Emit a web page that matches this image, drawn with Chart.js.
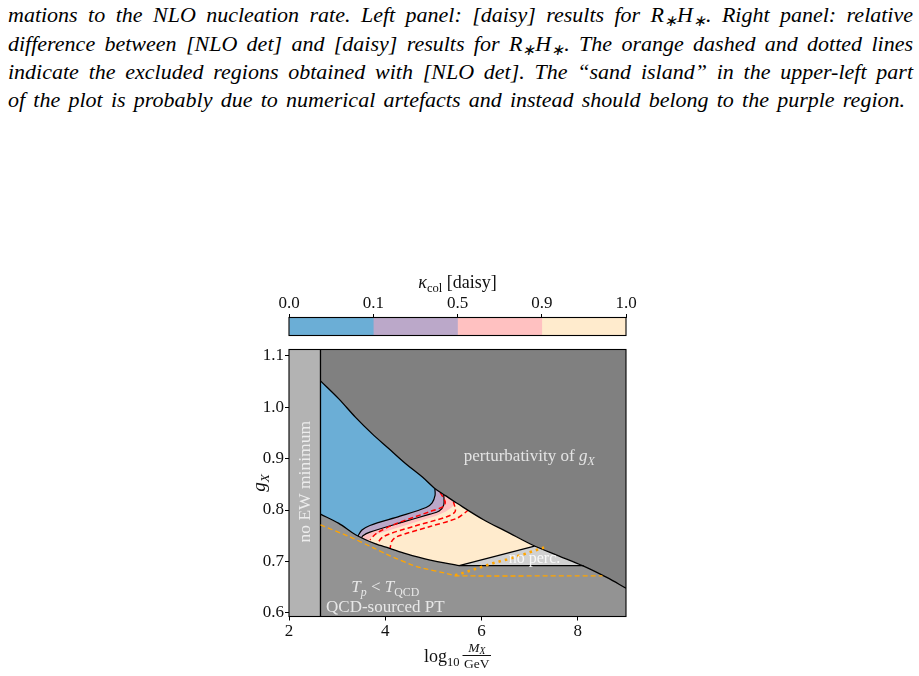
<!DOCTYPE html>
<html>
<head>
<meta charset="utf-8">
<script src="https://cdn.jsdelivr.net/npm/chart.js@4.4.1/dist/chart.umd.min.js"></script>
<style>
  html, body { margin: 0; padding: 0; background: #fff; }
  body { width: 919px; height: 676px; position: relative; overflow: hidden; }
  .cap { position: absolute; left: 8px; width: 905px; font-family: "Liberation Serif", serif; font-style: italic;
         font-size: 22px; line-height: 24px; white-space: nowrap; text-align: justify; text-align-last: justify; color: #000; }
  .cap sub { font-size: 0.7em; line-height: 0; vertical-align: -0.25em; }
  #main { position: absolute; left: 0; top: 0; }
  #cbar { position: absolute; left: 239px; top: 255px; }
</style>
</head>
<body>
<div class="cap" style="top:3px">mations to the NLO nucleation rate. Left panel: [daisy] results for R<sub>∗</sub>H<sub>∗</sub>. Right panel: relative</div>
<div class="cap" style="top:32px">difference between [NLO det] and [daisy] results for R<sub>∗</sub>H<sub>∗</sub>. The orange dashed and dotted lines</div>
<div class="cap" style="top:60px">indicate the excluded regions obtained with [NLO det]. The “sand island” in the upper-left part</div>
<div class="cap" style="top:88px;width:897px">of the plot is probably due to numerical artefacts and instead should belong to the purple region.</div>
<canvas id="main" width="919" height="676"></canvas>
<canvas id="cbar" width="440" height="90"></canvas>
<script>
// axes
const xRange = [2, 9];
const yRange = [0.593, 1.112];
const xTicks = [2, 4, 6, 8];
const yTicks = [0.6, 0.7, 0.8, 0.9, 1.0, 1.1];

// colour bar (kappa_col [daisy])
const cbBounds = [0.0, 0.1, 0.5, 0.9, 1.0];
const cbColors = ['#6baed6', '#bba8c9', '#ffc1c1', '#ffebcd'];

// no EW minimum below this mass
const ewEdge = 2.654;

// perturbativity of g_X
const pertX = [2.654, 3.035, 3.383, 3.729, 4.077, 4.425, 4.771, 5.015, 5.25, 5.49, 6.04, 6.5, 7.10, 7.6, 8.12, 8.6, 9.0];
const pertY = [1.051, 1.016, 0.980, 0.948, 0.919, 0.890, 0.864, 0.843, 0.828, 0.813, 0.781, 0.759, 0.730, 0.711, 0.691, 0.669, 0.648];

// T_p < T_QCD boundary (daisy): curved part, then flat edge under "no perc."
const tpX = [2.654, 3.035, 3.383, 3.80, 4.077, 4.425, 4.91, 5.535];
const tpY = [0.792, 0.774, 0.752, 0.734, 0.726, 0.715, 0.703, 0.692];
const tpFlatX = [5.535, 8.12];
const tpFlatY = [0.692, 0.692];

// no percolation edge
const noPercX = [5.535, 7.10];
const noPercY = [0.692, 0.730];

// kappa contours 0.1 / 0.5 / 0.9
const k01X = [5.03, 5.035, 4.973, 4.848, 4.306, 3.681, 3.515, 3.442, 3.42];
const k01Y = [0.841, 0.829, 0.814, 0.805, 0.788, 0.770, 0.761, 0.751, 0.745];
const k05X = [5.215, 5.215, 5.12, 4.93, 4.306, 3.681, 3.535, 3.50];
const k05Y = [0.830, 0.810, 0.798, 0.792, 0.775, 0.757, 0.750, 0.745];
const k09X = [5.45, 5.39, 5.26, 5.06, 4.306, 3.785, 3.66, 3.64];
const k09Y = [0.815, 0.806, 0.797, 0.789, 0.767, 0.752, 0.744, 0.738];

// [NLO det] contours (red dashed)
const nlo1X = [5.14, 5.244, 5.208, 4.931, 4.238, 3.821, 3.681];
const nlo1Y = [0.834, 0.816, 0.807, 0.797, 0.774, 0.755, 0.742];
const nlo2X = [5.417, 5.452, 5.279, 4.583, 3.958, 3.785];
const nlo2Y = [0.816, 0.797, 0.787, 0.768, 0.748, 0.728];
const nlo3X = [5.73, 5.488, 4.931, 4.238, 4.133, 4.098];
const nlo3Y = [0.800, 0.784, 0.768, 0.748, 0.739, 0.724];

// [NLO det] excluded regions (orange)
const nloTpX = [2.654, 3.26, 3.74, 4.10, 4.65, 5.35, 5.42, 8.51];
const nloTpY = [0.771, 0.748, 0.727, 0.711, 0.690, 0.675, 0.672, 0.672];
const nloPercX = [5.45, 5.83, 6.25, 6.53, 6.88, 7.2, 7.3];
const nloPercY = [0.673, 0.684, 0.697, 0.704, 0.714, 0.724, 0.727];

const pts = (xs, ys) => xs.map((x, i) => ({ x, y: ys[i] }));
const pert = pts(pertX, pertY);
const tp = pts(tpX, tpY).concat(pts(tpFlatX.slice(1), tpFlatY.slice(1)));
const yLo = yRange[0] - 0.1, yHi = yRange[1] + 0.1;

function area(data, color, order, tension) {
  return { data, backgroundColor: color, borderColor: 'transparent', borderWidth: 0, fill: 'shape', order, pointRadius: 0, tension: tension || 0 };
}
function curve(data, color, width, dash, order, tension) {
  return { data, borderColor: color, borderWidth: width, borderDash: dash || [], fill: false, order, pointRadius: 0, tension: tension || 0 };
}
// region above a contour (oversized, the grey regions cover the excess)
function above(xs, ys, color, order) {
  const c = pts(xs, ys);
  const last = c[c.length - 1];
  return area(c.concat([{ x: last.x, y: yLo }, { x: xRange[0], y: yLo }, { x: xRange[0], y: yHi }, { x: c[0].x, y: yHi }]), color, order);
}

const lastTp = tp[tp.length - 1];
const lowerGrey = tp.concat(pert.filter(p => p.x > lastTp.x), [{ x: xRange[1], y: yLo }, { x: ewEdge, y: yLo }]);
const upperGrey = pert.concat([{ x: xRange[1] + 1, y: pertY[pertY.length - 1] - 0.04 }, { x: xRange[1] + 1, y: yHi + 0.3 }, { x: ewEdge - 1, y: yHi + 0.3 }]);
const noPerc = pts(noPercX, noPercY).concat(pert.filter(p => p.x > noPercX[1] && p.x <= lastTp.x));

const datasets = [
  area([{ x: xRange[0], y: yLo }, { x: xRange[1], y: yLo }, { x: xRange[1], y: yHi }, { x: xRange[0], y: yHi }], cbColors[3], 100),
  area(noPerc, '#d1d1d1', 95),
  above(k09X, k09Y, cbColors[2], 90),
  above(k05X, k05Y, cbColors[1], 85),
  above(k01X, k01Y, cbColors[0], 80),
  curve(pts(k01X, k01Y), '#000', 1.2, null, 70, 0.3),
  curve(pts(k05X, k05Y), '#000', 1.2, null, 70, 0.3),
  curve(pts(nlo1X, nlo1Y), '#ff0000', 1.5, [5, 3], 65, 0.3),
  curve(pts(nlo2X, nlo2Y), '#ff0000', 1.5, [5, 3], 65, 0.3),
  curve(pts(nlo3X, nlo3Y), '#ff0000', 1.5, [5, 3], 65, 0.3),
  area(lowerGrey, '#939393', 60),
  area(upperGrey, '#808080', 55, 0.35),
  area([{ x: xRange[0], y: yLo }, { x: ewEdge, y: yLo }, { x: ewEdge, y: yHi }, { x: xRange[0], y: yHi }], '#b3b3b3', 50),
  curve(pert, '#000', 1.3, null, 10, 0.35),
  curve(pts(tpX, tpY), '#000', 1.3, null, 10, 0.3),
  curve(pts(tpFlatX, tpFlatY), '#000', 1.3, null, 10),
  curve(pts(noPercX, noPercY), '#000', 1.3, null, 10),
  curve([{ x: ewEdge, y: yLo }, { x: ewEdge, y: yHi }], '#000', 1.3, null, 10),
  curve(pts(nloTpX, nloTpY), '#ffa500', 1.3, [5, 3], 5, 0.2),
  curve(pts(nloPercX, nloPercY), '#ffa500', 2.6, [2.5, 4], 5)
];

const FONT = '"Liberation Serif", serif';
function rich(ctx, parts, x, y, size, align) {
  let w = 0;
  const items = parts.map(([t, st]) => {
    const sub = st.includes('s');
    const fs = sub ? size * 0.7 : size;
    const font = (st.includes('i') ? 'italic ' : '') + fs + 'px ' + FONT;
    ctx.font = font;
    const tw = ctx.measureText(t).width;
    w += tw;
    return { t, font, tw, dy: sub ? size * 0.22 : 0 };
  });
  let cx = align === 'center' ? x - w / 2 : x;
  ctx.textAlign = 'left';
  ctx.textBaseline = 'alphabetic';
  for (const it of items) { ctx.font = it.font; ctx.fillText(it.t, cx, y + it.dy); cx += it.tw; }
}

const decor = {
  id: 'decor',
  afterDatasetsDraw(chart) {
    const { ctx, scales: { x, y } } = chart;
    ctx.save();
    ctx.fillStyle = 'rgba(255,255,255,0.78)';
    rich(ctx, [['perturbativity of ', ''], ['g', 'i'], ['X', 'si']], x.getPixelForValue(6.99), y.getPixelForValue(0.895), 17, 'center');
    rich(ctx, [['T', 'i'], ['p', 'si'], [' < ', ''], ['T', 'i'], ['QCD', 's']], x.getPixelForValue(4.0), y.getPixelForValue(0.641), 17, 'center');
    rich(ctx, [['QCD-sourced PT', '']], x.getPixelForValue(4.0), y.getPixelForValue(0.6025), 17, 'center');
    ctx.fillStyle = 'rgba(255,255,255,0.85)';
    rich(ctx, [['no perc.', '']], x.getPixelForValue(7.10), y.getPixelForValue(0.6966), 16, 'center');
    ctx.fillStyle = 'rgba(255,255,255,0.75)';
    ctx.translate(x.getPixelForValue(2.306) + 6, y.getPixelForValue(0.855));
    ctx.rotate(-Math.PI / 2);
    rich(ctx, [['no EW minimum', '']], 0, 0, 17.5, 'center');
    ctx.restore();
  },
  afterDraw(chart) {
    const { ctx, chartArea: a } = chart;
    ctx.save();
    ctx.strokeStyle = '#000';
    ctx.lineWidth = 1.1;
    ctx.strokeRect(a.left, a.top, a.right - a.left, a.bottom - a.top);
    ctx.fillStyle = '#111';
    // x label: log10 M_X / GeV
    const cx = (a.left + a.right) / 2;
    ctx.font = '18px ' + FONT;
    const wLog = ctx.measureText('log').width;
    ctx.font = '12.5px ' + FONT;
    const wTen = ctx.measureText('10').width;
    ctx.font = 'italic 13.5px ' + FONT;
    const wM = ctx.measureText('M').width;
    ctx.font = 'italic 9.5px ' + FONT;
    const wX = ctx.measureText('X').width;
    ctx.font = '13.5px ' + FONT;
    const wGeV = ctx.measureText('GeV').width;
    const wFrac = Math.max(wM + wX, wGeV) + 3;
    const total = wLog + wTen + 3 + wFrac;
    let lx = cx - total / 2;
    const base = a.bottom + 45;
    ctx.textAlign = 'left';
    ctx.textBaseline = 'alphabetic';
    ctx.font = '18px ' + FONT; ctx.fillText('log', lx, base); lx += wLog;
    ctx.font = '12.5px ' + FONT; ctx.fillText('10', lx, base + 4); lx += wTen + 3;
    const fc = lx + wFrac / 2;
    ctx.fillRect(lx, base - 6.5, wFrac, 1);
    ctx.font = 'italic 13.5px ' + FONT; ctx.fillText('M', fc - (wM + wX) / 2, base - 10);
    ctx.font = 'italic 9.5px ' + FONT; ctx.fillText('X', fc - (wM + wX) / 2 + wM, base - 8);
    ctx.font = '13.5px ' + FONT; ctx.fillText('GeV', fc - wGeV / 2, base + 6.5);
    // y label: g_X
    ctx.translate(a.left - 24, (a.top + a.bottom) / 2);
    ctx.rotate(-Math.PI / 2);
    rich(ctx, [['g', 'i'], ['X', 'si']], 0, 0, 19, 'center');
    ctx.restore();
  }
};

const tickFont = { family: 'Liberation Serif', size: 17 };

new Chart(document.getElementById('main'), {
  type: 'line',
  data: { datasets },
  options: {
    responsive: false,
    animation: false,
    events: [],
    layout: { padding: { left: 249, top: 349.5, right: 293, bottom: 29.5 } },
    plugins: { legend: { display: false }, tooltip: { enabled: false } },
    elements: { point: { radius: 0 } },
    scales: {
      x: {
        type: 'linear', min: xRange[0], max: xRange[1],
        afterFit: s => { s.height = 30; },
        afterBuildTicks: s => { s.ticks = xTicks.map(v => ({ value: v })); },
        grid: { drawOnChartArea: false, tickLength: 4, color: '#000' },
        border: { display: false },
        ticks: { font: tickFont, color: '#111', padding: 1, maxRotation: 0, callback: v => String(v) }
      },
      y: {
        type: 'linear', min: yRange[0], max: yRange[1],
        afterFit: s => { s.width = 40; },
        afterBuildTicks: s => { s.ticks = yTicks.map(v => ({ value: v })); },
        grid: { drawOnChartArea: false, tickLength: 4, color: '#000' },
        border: { display: false },
        ticks: { font: tickFont, color: '#111', padding: 1, callback: v => v.toFixed(1) }
      }
    }
  },
  plugins: [decor]
});

const cbDecor = {
  id: 'cbDecor',
  afterDraw(chart) {
    const { ctx, chartArea: a } = chart;
    ctx.save();
    ctx.strokeStyle = '#000';
    ctx.lineWidth = 1.1;
    ctx.strokeRect(a.left, a.top, a.right - a.left, a.bottom - a.top);
    ctx.fillStyle = '#111';
    rich(ctx, [['κ', 'i'], ['col', 's'], [' [daisy]', '']], (a.left + a.right) / 2, 33, 18, 'center');
    ctx.restore();
  }
};

new Chart(document.getElementById('cbar'), {
  type: 'bar',
  data: {
    labels: ['κ'],
    datasets: cbColors.map((c, i) => ({
      data: [[i, i + 1]], backgroundColor: c, borderWidth: 0,
      barPercentage: 1, categoryPercentage: 1, grouped: false
    }))
  },
  options: {
    indexAxis: 'y',
    responsive: false,
    animation: false,
    events: [],
    layout: { padding: { left: 50, right: 53, top: 37.5, bottom: 9.5 } },
    plugins: { legend: { display: false }, tooltip: { enabled: false } },
    scales: {
      x: {
        type: 'linear', position: 'top', min: 0, max: cbBounds.length - 1,
        afterFit: s => { s.height = 25; },
        afterBuildTicks: s => { s.ticks = cbBounds.map((_, i) => ({ value: i })); },
        grid: { drawOnChartArea: false, tickLength: 3.5, color: '#000' },
        border: { display: false },
        ticks: { font: tickFont, color: '#111', padding: 0, maxRotation: 0, callback: (v, i) => cbBounds[i].toFixed(1) }
      },
      y: { display: false }
    }
  },
  plugins: [cbDecor]
});
</script>
</body>
</html>
